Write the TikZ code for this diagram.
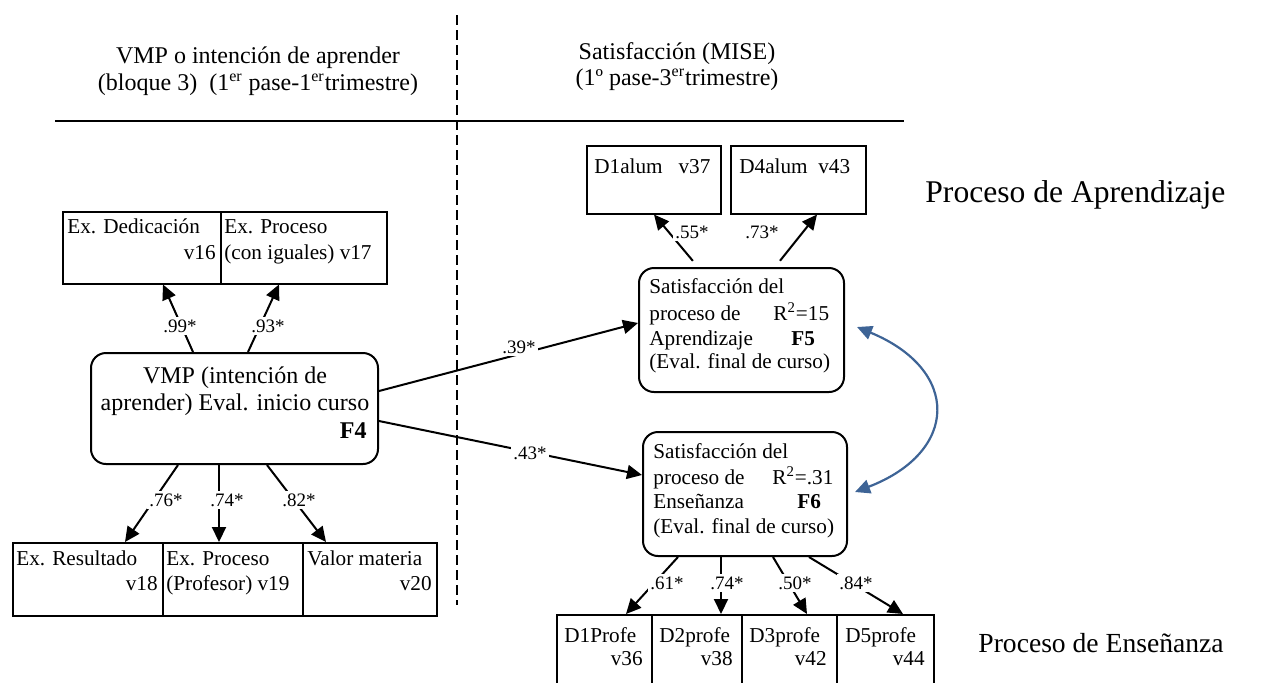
\documentclass[tikz,border=0pt]{standalone}
\usepackage{fontspec}
\setmainfont{Liberation Serif}
\usetikzlibrary{arrows.meta}
\definecolor{linkblue}{RGB}{62,100,150}

\begin{document}
\begin{tikzpicture}[x=0.5pt,y=-0.5pt,
  box/.style={draw, line width=0.75pt, inner sep=0pt, anchor=north west},
  factor/.style={draw, line width=1pt, rounded corners=7.5pt, inner sep=0pt, anchor=north west},
  txt/.style={inner sep=0pt, font=\fontsize{10.6}{12}\selectfont},
  head/.style={inner sep=0pt, font=\fontsize{12}{14}\selectfont},
  side/.style={inner sep=0pt, anchor=base west},
  coef/.style={fill=white, inner sep=1.2pt, font=\fontsize{9.5}{11}\selectfont},
  load/.style={line width=1pt, -{Triangle[length=7.5pt,width=7pt]}},
  corr/.style={line width=1.1pt, draw=linkblue, {Triangle[length=7.5pt,width=7pt]}-{Triangle[length=7.5pt,width=7pt]}, fill=none},
]
\useasboundingbox (0,0) rectangle (1263,682);
\clip (0,0) rectangle (1263,682);

% separators
\draw[line width=0.75pt, dash pattern=on 5pt off 2.5pt] (457,15) -- (457,605);
\draw[line width=1pt] (55,121) -- (904,121);

% column headings
\node[head, anchor=base] (hl1) at (258,63) {VMP o intención de aprender};
\node[head, anchor=base] (hl2) at (258,90) {(bloque 3)\ \ (1\textsuperscript{er} pase-1\textsuperscript{er}trimestre)};
\node[head, anchor=base] (hr1) at (677,59) {Satisfacción (MISE)};
\node[head, anchor=base] (hr2) at (677,85) {(1º pase-3\textsuperscript{er}trimestre)};

% row labels
\node[side, font=\fontsize{15.8}{18}\selectfont] (pa) at (925,202) {Proceso de Aprendizaje};
\node[side, font=\fontsize{13.8}{16}\selectfont] (pe) at (978,652) {Proceso de Enseñanza};

% factor F4
\node[factor, minimum width=143.5pt, minimum height=55.5pt] (vmp) at (90,352) {};
\node[head, anchor=base] (vmpA) at (235,383) {VMP (intención de};
\node[head, anchor=base] (vmpB) at (235,410) {aprender) Eval. inicio curso};
\node[head, anchor=base east] (vmpC) at (367,438) {\textbf{F4}};

% indicators of F4 (top)
\node[box, minimum width=79pt, minimum height=36pt] (ded) at (62,211) {};
\node[box, minimum width=83pt, minimum height=36pt] (pig) at (220,211) {};
\node[txt, anchor=base west] (dedA) at (67,233) {Ex. Dedicación};
\node[txt, anchor=base east] (dedB) at (216,259) {v16};
\node[txt, anchor=base west] (pigA) at (224,233) {Ex. Proceso};
\node[txt, anchor=base west] (pigB) at (224,259) {(con iguales) v17};

% indicators of F4 (bottom)
\node[box, minimum width=75pt, minimum height=36.5pt] (res) at (12,542) {};
\node[box, minimum width=70pt, minimum height=36.5pt] (ppr) at (162,542) {};
\node[box, minimum width=67pt, minimum height=36.5pt] (val) at (302,542) {};
\node[txt, anchor=base west] (resA) at (16,565) {Ex. Resultado};
\node[txt, anchor=base east] (resB) at (158,590) {v18};
\node[txt, anchor=base west] (pprA) at (166,565) {Ex. Proceso};
\node[txt, anchor=base west] (pprB) at (166,590) {(Profesor) v19};
\node[txt, anchor=base west] (valA) at (307,565) {Valor materia};
\node[txt, anchor=base east] (valB) at (432,590) {v20};

% factor F5
\node[factor, minimum width=102.5pt, minimum height=62pt] (f5) at (638,267) {};
\node[txt, anchor=base west] (f5A) at (649,293) {Satisfacción del};
\node[txt, anchor=base west] (f5B) at (649,320) {proceso de};
\node[txt, anchor=base west] (f5C) at (649,345) {Aprendizaje};
\node[txt, anchor=base west] (f5D) at (649,368) {(Eval. final de curso)};
\node[txt, anchor=base west] (f5R) at (773,320) {R\textsuperscript{2}=15};
\node[txt, anchor=base west] (f5N) at (791,345) {\textbf{F5}};

% factor F6
\node[factor, minimum width=102pt, minimum height=62pt] (f6) at (642,431) {};
\node[txt, anchor=base west] (f6A) at (653,458) {Satisfacción del};
\node[txt, anchor=base west] (f6B) at (653,484) {proceso de};
\node[txt, anchor=base west] (f6C) at (653,508) {Enseñanza};
\node[txt, anchor=base west] (f6D) at (653,533) {(Eval. final de curso)};
\node[txt, anchor=base west] (f6R) at (772,484) {R\textsuperscript{2}=.31};
\node[txt, anchor=base west] (f6N) at (797,508) {\textbf{F6}};

% indicators of F5
\node[box, minimum width=67pt, minimum height=34pt] (d1a) at (586,145) {};
\node[box, minimum width=67.5pt, minimum height=34pt] (d4a) at (730,145) {};
\node[txt, anchor=base west] (d1aT) at (594,173) {D1alum\ \ \ v37};
\node[txt, anchor=base west] (d4aT) at (739,173) {D4alum\ \ v43};

% indicators of F6
\node[box, minimum width=47.5pt, minimum height=43pt] (d1p) at (556,614) {};
\node[box, minimum width=45pt, minimum height=43pt] (d2p) at (651,614) {};
\node[box, minimum width=47.5pt, minimum height=43pt] (d3p) at (741,614) {};
\node[box, minimum width=48.5pt, minimum height=43pt] (d5p) at (836,614) {};
\node[txt, anchor=base west] (d1pA) at (564,642) {D1Profe};
\node[txt, anchor=base east] (d1pB) at (643,665) {v36};
\node[txt, anchor=base west] (d2pA) at (659,642) {D2profe};
\node[txt, anchor=base east] (d2pB) at (733,665) {v38};
\node[txt, anchor=base west] (d3pA) at (749,642) {D3profe};
\node[txt, anchor=base east] (d3pB) at (827,665) {v42};
\node[txt, anchor=base west] (d5pA) at (845,642) {D5profe};
\node[txt, anchor=base east] (d5pB) at (925,665) {v44};

% loadings of F4
\draw[load] ([xshift=51.5pt]vmp.north west) -- ([xshift=50.5pt]ded.south west);
\draw[load] ([xshift=79pt]vmp.north west) -- ([xshift=29.5pt]pig.south west);
\draw[load] ([xshift=44pt]vmp.south west) -- ([xshift=56.5pt]res.north west);
\draw[load] ([xshift=64.5pt]vmp.south west) -- ([xshift=28.5pt]ppr.north west);
\draw[load] ([xshift=88.5pt]vmp.south west) -- ([xshift=12pt]val.north west);

% structural paths
\draw[load] ([yshift=-19.5pt]vmp.north east) -- ([yshift=-28pt]f5.north west);
\draw[load] ([yshift=-34.5pt]vmp.north east) -- ([yshift=-22pt]f6.north west);

% loadings of F5
\draw[load, shorten <=4pt] ([xshift=30pt]f5.north west) -- ([xshift=34pt]d1a.south west);
\draw[load, shorten <=4pt] ([xshift=68.5pt]f5.north west) -- ([xshift=43.5pt]d4a.south west);

% loadings of F6
\draw[load] ([xshift=18pt]f6.south west) -- ([xshift=35pt]d1p.north west);
\draw[load] ([xshift=39.5pt]f6.south west) -- ([xshift=35pt]d2p.north west);
\draw[load] ([xshift=65.5pt]f6.south west) -- ([xshift=33pt]d3p.north west);
\draw[load] ([xshift=83.5pt]f6.south west) -- ([xshift=33.5pt]d5p.north west);

% covariance F5 - F6
\draw[corr] ([xshift=6pt,yshift=-30pt]f5.north east) .. controls (961,370) and (959,452) .. ([xshift=3.5pt,yshift=-30.5pt]f6.north east);

% coefficients
\node[coef] (c99) at (180,326) {.99*};
\node[coef] (c93) at (268,326) {.93*};
\node[coef] (c76) at (166,500) {.76*};
\node[coef] (c74) at (227,500) {.74*};
\node[coef] (c82) at (299,500) {.82*};
\node[coef] (c39) at (519,347) {.39*};
\node[coef] (c43) at (530,453) {.43*};
\node[coef] (c55) at (692,232) {.55*};
\node[coef] (c73) at (762,232) {.73*};
\node[coef] (c61) at (667,583) {.61*};
\node[coef] (c74b) at (727,583) {.74*};
\node[coef] (c50) at (795,583) {.50*};
\node[coef] (c84) at (856,583) {.84*};
\end{tikzpicture}
\end{document}
